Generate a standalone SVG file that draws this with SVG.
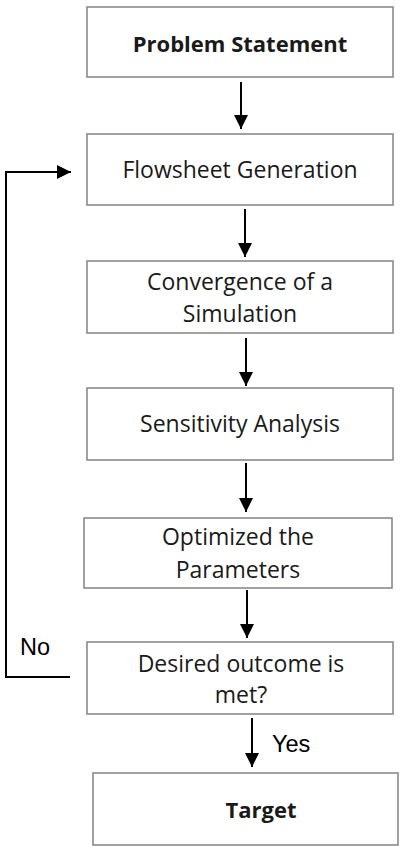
<svg xmlns="http://www.w3.org/2000/svg" width="400" height="846" viewBox="0 0 400 846">
<defs>
<marker id="ah" viewBox="0 0 10 10" refX="10" refY="5" markerWidth="7" markerHeight="7" orient="auto" markerUnits="strokeWidth"><path d="M0,0 L10,5 L0,10 z" fill="#000"/></marker>
<style>
.box{fill:#fff;stroke:#8a8a8a;stroke-width:1.6}
.t{font-family:"Open Sans","Noto Sans",sans-serif;font-size:23px;fill:#1a1a1a;text-anchor:middle}
.b{font-weight:bold;font-size:22px}
.a{font-family:"Liberation Sans",Arial,sans-serif;font-size:23.5px;fill:#000}
.c{stroke:#000;stroke-width:2;fill:none}
</style>
</defs>
<rect width="400" height="846" fill="#fff"/>
<g id="n1"><rect class="box" x="87" y="7" width="306" height="70"/><text class="t b" x="240" y="52">Problem Statement</text></g>
<g id="n2"><rect class="box" x="87" y="134" width="306" height="71"/><text class="t" x="240" y="178">Flowsheet Generation</text></g>
<g id="n3"><rect class="box" x="87" y="261" width="306" height="72"/><text class="t" x="240" y="290">Convergence of a</text><text class="t" x="240" y="322">Simulation</text></g>
<g id="n4"><rect class="box" x="87" y="388" width="306" height="72"/><text class="t" x="240" y="432">Sensitivity Analysis</text></g>
<g id="n5"><rect class="box" x="84" y="518" width="308" height="70"/><text class="t" x="238" y="545">Optimized the</text><text class="t" x="238" y="578">Parameters</text></g>
<g id="n6"><rect class="box" x="87" y="642" width="306" height="72"/><text class="t" x="241" y="672">Desired outcome is</text><text class="t" x="241" y="703">met?</text></g>
<g id="n7"><rect class="box" x="93" y="773" width="305" height="72"/><text class="t b" x="261" y="818">Target</text></g>
<g id="connectors">
<line class="c" x1="241" y1="82" x2="241" y2="129" marker-end="url(#ah)"/>
<line class="c" x1="245" y1="209" x2="245" y2="257" marker-end="url(#ah)"/>
<line class="c" x1="246" y1="338" x2="246" y2="386" marker-end="url(#ah)"/>
<line class="c" x1="246" y1="463" x2="246" y2="512" marker-end="url(#ah)"/>
<line class="c" x1="247" y1="590" x2="247" y2="638" marker-end="url(#ah)"/>
<line class="c" x1="252" y1="718" x2="252" y2="767" marker-end="url(#ah)"/>
<polyline class="c" points="70,677 6,677 6,172 71,172" marker-end="url(#ah)"/>
<text class="a" x="272" y="752">Yes</text>
<text class="a" x="20" y="655">No</text>
</g>
</svg>
